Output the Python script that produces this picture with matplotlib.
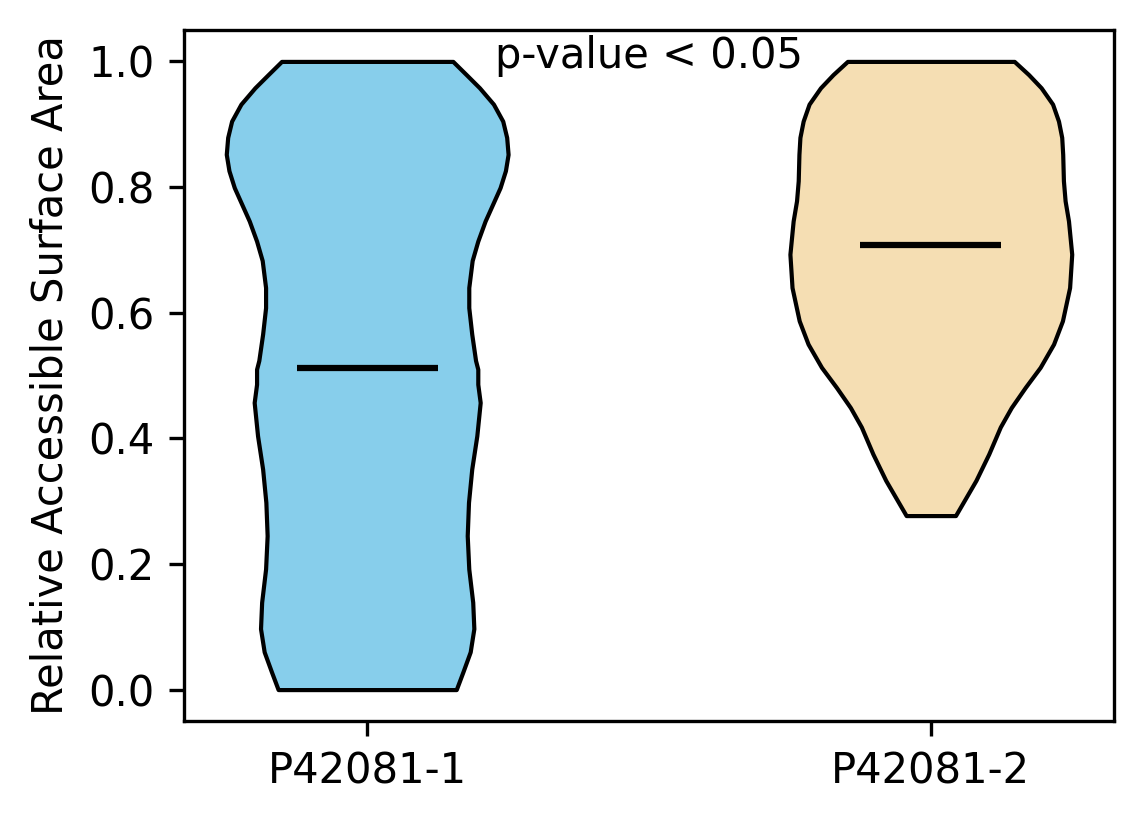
import matplotlib
matplotlib.use("Agg")
import matplotlib.pyplot as plt
import numpy as np

labels = ["P42081-1", "P42081-2"]
colors = ["#87CEEB", "#F5DEB3"]
medians = [0.512, 0.708]

# violin outlines: y level and width relative to the widest point
rsa_levels_1 = [0.0, 0.028, 0.060, 0.097, 0.139, 0.192, 0.245, 0.298, 0.351, 0.404,
                0.457, 0.486, 0.510, 0.524, 0.566, 0.608, 0.640, 0.683, 0.714, 0.746,
                0.773, 0.799, 0.826, 0.852, 0.879, 0.905, 0.932, 0.958, 0.979, 1.0]
density_1 = [0.632, 0.679, 0.731, 0.757, 0.749, 0.721, 0.710, 0.719, 0.742, 0.778,
             0.802, 0.785, 0.785, 0.769, 0.742, 0.721, 0.721, 0.745, 0.785, 0.837,
             0.891, 0.943, 0.981, 1.0, 0.990, 0.962, 0.896, 0.797, 0.703, 0.608]

rsa_levels_2 = [0.277, 0.333, 0.375, 0.418, 0.449, 0.481, 0.513, 0.550, 0.587,
                0.640, 0.693, 0.746, 0.778, 0.810, 0.852, 0.879, 0.905, 0.932, 0.958,
                0.979, 1.0]
density_2 = [0.175, 0.320, 0.411, 0.493, 0.571, 0.670, 0.776, 0.871, 0.934,
             0.985, 1.0, 0.977, 0.953, 0.941, 0.936, 0.929, 0.906, 0.864, 0.783,
             0.694, 0.592]

outlines = [(rsa_levels_1, density_1), (rsa_levels_2, density_2)]

W, H, DPI = 1144, 824, 300
fig = plt.figure(figsize=(W / DPI, H / DPI), dpi=DPI)
ax = fig.add_axes([184 / W, (H - 721) / H, 930 / W, 691 / H])

positions = [1, 2]
widths = 0.5
for pos, (levels, dens), col, med in zip(positions, outlines, colors, medians):
    levels = np.array(levels)
    half = np.array(dens) * widths / 2
    ax.fill_betweenx(levels, pos - half, pos + half, facecolor=col,
                     edgecolor="black", linewidth=1.0)
    ax.hlines(med, pos - widths / 4, pos + widths / 4, color="black", linewidth=1.5)

ax.set_xticks(positions)
ax.set_xticklabels(labels, fontsize=10)
ax.set_xlim(0.675, 2.325)
ax.set_ylim(-0.05, 1.05)
ax.set_yticks([0.0, 0.2, 0.4, 0.6, 0.8, 1.0])
ax.tick_params(labelsize=10)
ax.set_ylabel("Relative Accessible Surface Area", fontsize=10)
ax.text(1.5, 0.99, "p-value < 0.05", ha="center", fontsize=10)

fig.savefig("out.png", dpi=DPI)
